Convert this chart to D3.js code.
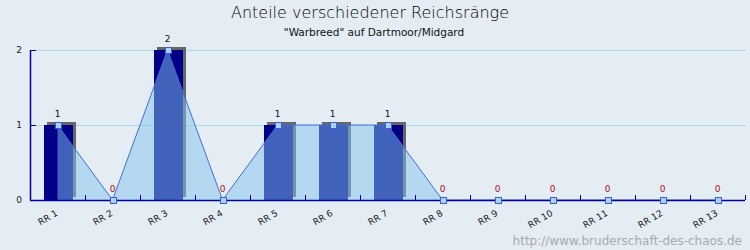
<!DOCTYPE html>
<html>
<head>
<meta charset="utf-8">
<script src="https://cdn.jsdelivr.net/npm/d3@7"></script>
<style>
  body { margin: 0; background: #e4ecf4; }
  svg { display: block; font-family: "DejaVu Sans", sans-serif; }
</style>
</head>
<body>
<div id="chart"></div>
<script>
const categories = ["RR 1", "RR 2", "RR 3", "RR 4", "RR 5", "RR 6", "RR 7", "RR 8", "RR 9", "RR 10", "RR 11", "RR 12", "RR 13"];
const counts = [1, 0, 2, 0, 1, 1, 1, 0, 0, 0, 0, 0, 0];
const yTicks = [0, 1, 2];

const width = 750, height = 250;
const margin = { top: 50, right: 5, bottom: 50, left: 30 };

const svg = d3.select("#chart").append("svg")
    .attr("width", width)
    .attr("height", height);

svg.append("rect")
    .attr("width", width)
    .attr("height", height)
    .attr("fill", "#e4ecf4");

const x = d3.scaleBand()
    .domain(categories)
    .range([margin.left, width - margin.right]);

const y = d3.scaleLinear()
    .domain([0, 2])
    .range([height - margin.bottom, margin.top]);

const bw = x.bandwidth();
const barW = 29;
const cx = d => x(d) + bw / 2;

// title
svg.append("text")
    .attr("x", 370)
    .attr("y", 18)
    .attr("text-anchor", "middle")
    .attr("font-size", 16)
    .attr("font-weight", 200)
    .attr("fill", "#000")
    .text("Anteile verschiedener Reichsränge");

svg.append("text")
    .attr("x", 374)
    .attr("y", 35.5)
    .attr("text-anchor", "middle")
    .attr("font-size", 10.5)
    .attr("fill", "#111")
    .text("\"Warbreed\" auf Dartmoor/Midgard");

// grid
svg.append("g")
    .selectAll("line")
    .data(yTicks.filter(d => d > 0))
    .join("line")
    .attr("x1", margin.left)
    .attr("x2", width - margin.right)
    .attr("y1", d => y(d) + 0.5)
    .attr("y2", d => y(d) + 0.5)
    .attr("stroke", "#a8d8ea")
    .attr("stroke-width", 1);

// bars with shadow
const bars = svg.append("g");
categories.forEach((c, i) => {
    if (counts[i] <= 0) return;
    const left = cx(c) - 13.5;
    bars.append("rect")
        .attr("x", left + 3)
        .attr("y", y(counts[i]) - 3)
        .attr("width", barW)
        .attr("height", y(0) - y(counts[i]))
        .attr("fill", "#666666");
    bars.append("rect")
        .attr("x", left)
        .attr("y", y(counts[i]))
        .attr("width", barW)
        .attr("height", y(0) - y(counts[i]))
        .attr("fill", "#000088");
});

// area + line
const pts = categories.map((c, i) => [cx(c), y(counts[i])]);

svg.append("path")
    .datum(pts)
    .attr("fill", "#82c4eb")
    .attr("fill-opacity", 0.5)
    .attr("d", d3.area().x(d => d[0]).y0(y(0)).y1(d => d[1]));

svg.append("path")
    .datum(pts)
    .attr("fill", "none")
    .attr("stroke", "#4a6cd0")
    .attr("stroke-width", 1)
    .attr("d", d3.line());

// axes
const axisColor = "#0000a0";
svg.append("line")
    .attr("x1", margin.left + 0.5).attr("x2", margin.left + 0.5)
    .attr("y1", y(2)).attr("y2", y(0))
    .attr("stroke", axisColor).attr("stroke-width", 1.5);

svg.append("g")
    .selectAll("line")
    .data(yTicks.filter(d => d > 0))
    .join("line")
    .attr("x1", margin.left).attr("x2", margin.left + 6)
    .attr("y1", d => y(d) + 0.5).attr("y2", d => y(d) + 0.5)
    .attr("stroke", axisColor).attr("stroke-width", 1);

svg.append("g")
    .selectAll("text")
    .data(yTicks)
    .join("text")
    .attr("x", 19)
    .attr("y", d => y(d) + 3)
    .attr("text-anchor", "middle")
    .attr("font-size", 9)
    .attr("fill", "#222")
    .text(d => d);

svg.append("line")
    .attr("x1", margin.left).attr("x2", width - margin.right)
    .attr("y1", y(0) + 0.5).attr("y2", y(0) + 0.5)
    .attr("stroke", axisColor).attr("stroke-width", 1.5);

svg.append("g")
    .selectAll("line")
    .data(categories)
    .join("line")
    .attr("x1", d => x(d) + bw + 0.5).attr("x2", d => x(d) + bw + 0.5)
    .attr("y1", y(0) - 5).attr("y2", y(0))
    .attr("stroke", axisColor).attr("stroke-width", 1);

svg.append("g")
    .selectAll("text")
    .data(categories)
    .join("text")
    .attr("transform", d => `translate(${cx(d) + 1},${y(0) + 15}) rotate(-30)`)
    .attr("text-anchor", "end")
    .attr("font-size", 9)
    .attr("fill", "#222")
    .text(d => d);

// markers
svg.append("g")
    .selectAll("rect")
    .data(pts)
    .join("rect")
    .attr("x", d => Math.round(d[0]) - 3 + 0.5)
    .attr("y", d => d[1] - 3 + 0.5)
    .attr("width", 6)
    .attr("height", 6)
    .attr("fill", "#a8d4f0")
    .attr("stroke", "#3a5ce6")
    .attr("stroke-width", 1);

// value labels
svg.append("g")
    .selectAll("text")
    .data(counts)
    .join("text")
    .attr("x", (d, i) => cx(categories[i]))
    .attr("y", d => y(d) - 8.5)
    .attr("text-anchor", "middle")
    .attr("font-size", 9)
    .attr("fill", d => d > 0 ? "#111" : "#aa1111")
    .text(d => d);

// watermark
svg.append("text")
    .attr("x", 742)
    .attr("y", 245)
    .attr("text-anchor", "end")
    .attr("font-size", 12)
    .attr("fill", "#aaaaaa")
    .text("http://www.bruderschaft-des-chaos.de");
</script>
</body>
</html>
